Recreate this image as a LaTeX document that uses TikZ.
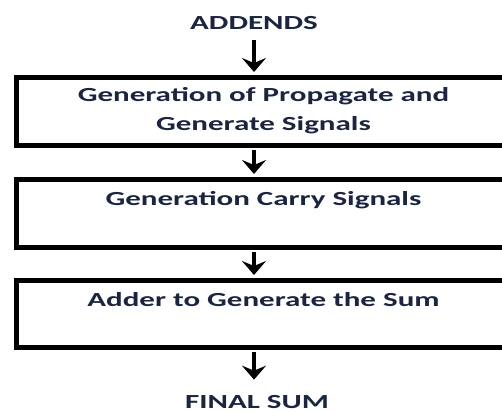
\documentclass[tikz,border=0pt]{standalone}
\definecolor{InkNavy}{HTML}{1B2540}
\usepackage{fontspec}
\setmainfont[FakeStretch=1.55]{Carlito}
\usepackage{tikz}
\usetikzlibrary{arrows.meta,positioning}

\tikzset{
  stagebox/.style={draw=black, line width=5pt, text=InkNavy,
                   minimum width=495pt, minimum height=68pt,
                   inner sep=0pt, align=center},
  endlabel/.style={text=InkNavy, inner sep=0pt},
  flow/.style={line width=3.5pt,
               -{Stealth[length=14pt,width=24pt,inset=5pt]}}
}

\begin{document}
\begin{tikzpicture}[x=1pt,y=-1pt,
        font=\fontsize{20}{29}\selectfont\bfseries]
        \useasboundingbox (0,0) rectangle (502,412);
        \clip (0,0) rectangle (502,412);

        \node[endlabel] (addends) at (254,23.5) {ADDENDS};
        \node[stagebox] (propgen) at (263.5,111)
          {Generation of Propagate and\\Generate Signals};
        \node[stagebox] (carrygen) at (263.5,213)
          {Generation Carry Signals\\~};
        \node[stagebox,minimum height=67pt] (sumgen) at (263.5,313.5)
          {Adder to Generate the Sum\\~};
        \node[endlabel] (finalsum) at (257,402) {FINAL SUM};

        % arrows between the stages
        \draw[flow,shorten <=10pt,shorten >=2.5pt]
          (addends.south) -- (addends.south |- propgen.north);
        \draw[flow,shorten <=2.5pt,shorten >=2.5pt]
          (addends.south |- propgen.south) -- (addends.south |- carrygen.north);
        \draw[flow,shorten <=2.5pt,shorten >=2.5pt]
          (addends.south |- carrygen.south) -- (addends.south |- sumgen.north);
        \draw[flow,shorten <=2.5pt,shorten >=15.5pt]
          (addends.south |- sumgen.south) -- (addends.south |- finalsum.north);
      \end{tikzpicture}
\end{document}
